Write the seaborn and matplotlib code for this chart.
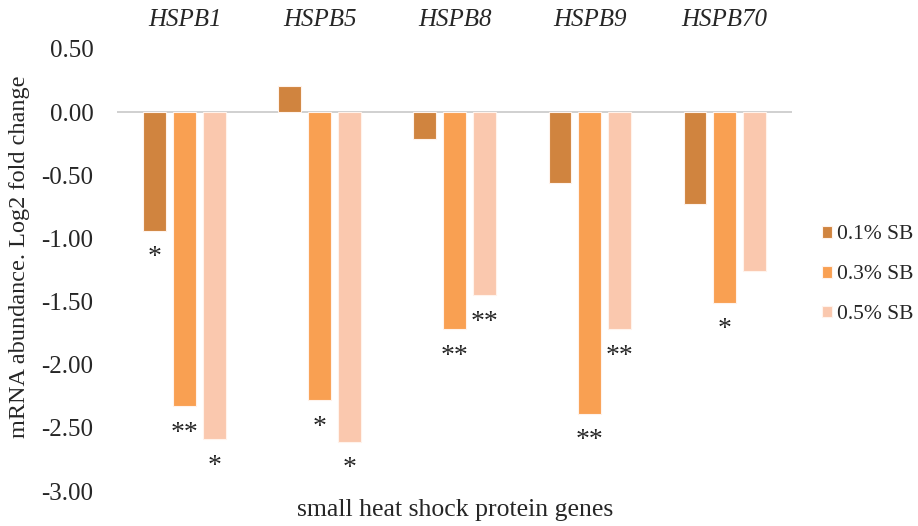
import matplotlib
matplotlib.use("Agg")
import matplotlib.pyplot as plt
import seaborn as sns
import pandas as pd

genes = ["HSPB1", "HSPB5", "HSPB8", "HSPB9", "HSPB70"]
treatments = ["0.1% SB", "0.3% SB", "0.5% SB"]
sb01 = [-0.94, 0.21, -0.21, -0.56, -0.73]
sb03 = [-2.33, -2.28, -1.72, -2.39, -1.51]
sb05 = [-2.59, -2.61, -1.45, -1.72, -1.26]
sig01 = ["*", "", "", "", ""]
sig03 = ["**", "*", "**", "**", "*"]
sig05 = ["*", "*", "**", "**", ""]
yticks = [0.5, 0.0, -0.5, -1.0, -1.5, -2.0, -2.5, -3.0]
colors = ["#D0843F", "#F9A052", "#FAC8AE"]

rows = []
for t, vals in zip(treatments, [sb01, sb03, sb05]):
    for g, v in zip(genes, vals):
        rows.append({"gene": g, "treatment": t, "value": v})
df = pd.DataFrame(rows)

sns.set_theme(style="white")
plt.rcParams["font.family"] = ["Liberation Serif", "DejaVu Serif"]

fig = plt.figure(figsize=(9.18, 5.26), dpi=100)
ax = fig.add_axes([0.1275, 0.0665, 0.7355, 0.8405])

sns.barplot(data=df, x="gene", y="value", hue="treatment", order=genes,
            hue_order=treatments, palette=colors, saturation=1,
            width=0.66, gap=0.23, edgecolor="#FFF3EC", linewidth=0.8,
            ax=ax, legend=True, zorder=2)

ax.set_ylim(-3.0, 0.5)
ax.set_xlim(-0.5, len(genes) - 0.5)
ax.set_yticks(yticks)
ax.set_yticklabels([f"{v:.2f}" for v in yticks], fontsize=18)
ax.tick_params(axis="y", length=0, pad=17)
ax.axhline(0, color="#C8C8C8", lw=1.2, zorder=1)

ax.xaxis.tick_top()
ax.set_xticks(range(len(genes)))
ax.set_xticklabels(genes, fontsize=18, style="italic")
ax.tick_params(axis="x", length=0, pad=13)

for s in ax.spines.values():
    s.set_visible(False)

ax.set_xlabel("small heat shock protein genes", fontsize=18.5, labelpad=6)
ax.xaxis.set_label_position("bottom")
ax.set_ylabel("mRNA abundance. Log2 fold change", fontsize=17.5, labelpad=8)
ax.yaxis.label.set_y(0.529)

for cont, sigs in zip(ax.containers, [sig01, sig03, sig05]):
    for p, s in zip(cont.patches, sigs):
        if not s:
            continue
        x = p.get_x() + p.get_width() / 2
        yb = min(p.get_y(), p.get_y() + p.get_height())
        ax.text(x, yb - 0.115, s, ha="center", va="top", fontsize=20)

leg = ax.legend(loc="center left", bbox_to_anchor=(1.044, 0.489), frameon=False,
                fontsize=15.5, handlelength=0.47, handleheight=0.47,
                handletextpad=0.23, labelspacing=0.97, borderpad=0,
                borderaxespad=0)

fig.savefig("out.png", dpi=100)
